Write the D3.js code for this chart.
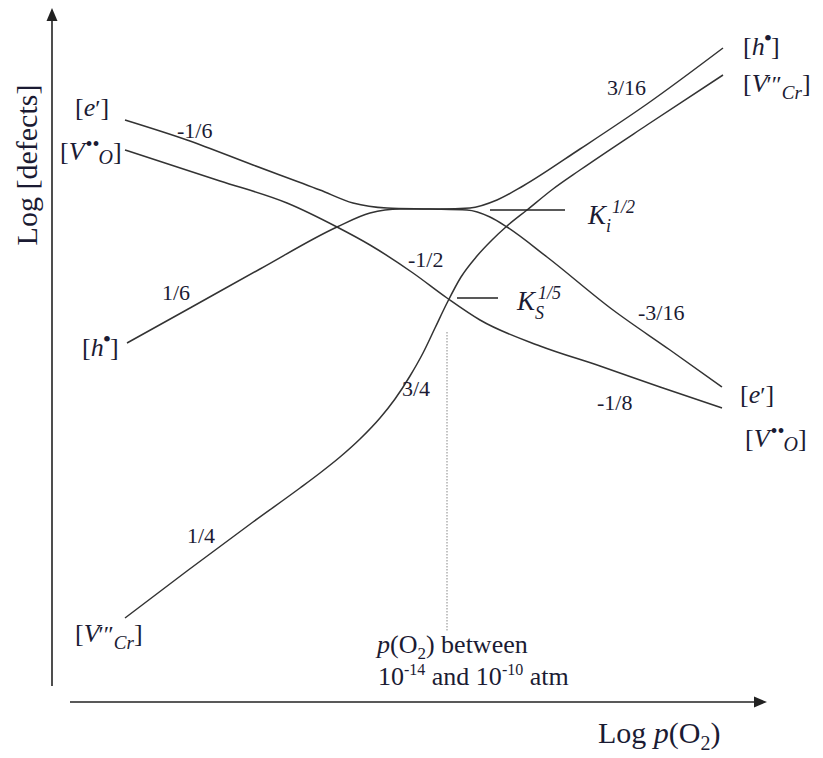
<!DOCTYPE html>
<html>
<head>
<meta charset="utf-8">
<script src="https://cdn.jsdelivr.net/npm/d3@7/dist/d3.min.js"></script>
<style>
	body { margin: 0; background: #fff; }
	svg, text { font-family: "Liberation Serif", "DejaVu Serif", serif; }
	text { fill: #1b1b33; }
</style>
</head>
<body>
<div id="chart"></div>
<script>
// Brouwer diagram, values in arbitrary log units [log p(O2), log conc]
var electrons = [[7.5,57.0],[13.7,55.0],[20.3,52.5],[27.0,50.0],[30.3,48.7],[33.7,48.2],[38.0,48.1],
	[41.7,48.0],[44.0,47.3],[45.7,46.3],[49.7,43.3],[56.3,38.0],[62.0,34.0],[67.2,30.3]];
var holes = [[7.7,34.7],[14.0,38.2],[21.0,42.1],[28.7,46.3],[32.0,47.7],[35.0,48.1],[39.0,48.1],
	[42.0,48.2],[44.7,49.0],[47.3,50.4],[53.0,54.1],[59.7,58.6],[67.3,64.2]];
var oxygenVac = [[7.5,54.0],[17.0,50.9],[23.7,48.7],[28.7,46.3],[32.0,44.5],[36.3,41.7],[39.7,39.2],
	[43.0,37.0],[49.0,34.4],[55.0,32.4],[61.0,30.3],[67.2,28.2]];
var chromiumVac = [[7.5,7.2],[13.7,11.9],[20.3,16.8],[25.0,20.2],[27.0,21.7],[29.0,23.3],[31.0,25.1],
	[33.0,27.2],[34.5,29.1],[36.0,31.4],[37.3,33.7],[38.5,36.2],[39.7,38.7],[41.1,41.3],[42.7,43.4],
	[44.2,45.0],[45.7,46.4],[47.7,48.0],[50.3,50.1],[53.0,52.0],[59.7,56.5],[67.3,61.5]];

var slopes = ["-1/6", "1/6", "-1/2", "3/16", "-3/16", "-1/8", "1/4", "3/4"];
var slopePos = [[12.7,55.2],[11.2,39.0],[35.8,42.3],[55.7,59.5],[58.8,37.0],[54.7,28.0],[13.7,14.7],[35.2,29.4]];

var species = ["e", "VO", "h", "VCr", "h", "VCr", "e", "VO"];
var speciesPos = [[2.5,57.4],[1.0,53.0],[3.2,33.4],[2.5,4.8],[69.3,63.5],[69.3,59.8],[69.0,28.7],[69.5,24.3]];

// equilibrium constants: level of Ki^1/2 and Ks^1/5, narrow pO2 window
var kiLevel = 48.0, ksLevel = 39.2, windowX = 39.7;

var width = 823, height = 758;

var x = d3.scaleLinear().domain([0, 72]).range([50, 770]);
var y = d3.scaleLinear().domain([0, 68]).range([690, 10]);

var svg = d3.select("#chart")
	.append("svg")
	.attr("width", width)
	.attr("height", height);

// axes with arrows
svg.append("line")
	.attr("x1", 52).attr("y1", 686).attr("x2", 52).attr("y2", 18)
	.attr("stroke", "#222").attr("stroke-width", 1.6);
svg.append("path")
	.attr("d", "M52,8L46.5,21L57.5,21Z")
	.attr("fill", "#222");
svg.append("line")
	.attr("x1", 70).attr("y1", 702).attr("x2", 757).attr("y2", 702)
	.attr("stroke", "#222").attr("stroke-width", 1.6);
svg.append("path")
	.attr("d", "M767,702L754,696.5L754,707.5Z")
	.attr("fill", "#222");

// pO2 window marker
svg.append("line")
	.attr("x1", x(windowX)).attr("x2", x(windowX))
	.attr("y1", 332).attr("y2", 632)
	.attr("stroke", "#aaa").attr("stroke-width", 1.4)
	.attr("stroke-dasharray", "1.5,1.5");

var line = d3.line()
	.x(function(d) { return x(d[0]); })
	.y(function(d) { return y(d[1]); })
	.curve(d3.curveMonotoneX);

svg.append("g")
	.selectAll("path")
	.data([electrons, holes, oxygenVac, chromiumVac])
	.enter().append("path")
	.attr("d", line)
	.attr("fill", "none")
	.attr("stroke", "#333")
	.attr("stroke-width", 1.5);

// K leader lines
svg.append("line")
	.attr("x1", x(44.0)).attr("x2", x(51.5))
	.attr("y1", y(kiLevel)).attr("y2", y(kiLevel))
	.attr("stroke", "#222").attr("stroke-width", 1.5);
svg.append("line")
	.attr("x1", x(40.7)).attr("x2", x(44.8))
	.attr("y1", y(ksLevel)).attr("y2", y(ksLevel))
	.attr("stroke", "#222").attr("stroke-width", 1.5);

// slope labels
svg.append("g")
	.selectAll("text")
	.data(slopes)
	.enter().append("text")
	.attr("x", function(d, i) { return x(slopePos[i][0]); })
	.attr("y", function(d, i) { return y(slopePos[i][1]); })
	.style("font-size", "22px")
	.text(function(d) { return d; });

// builds a label out of tspans
function addPart(t, txt, opt) {
	var s = t.append("tspan").text(txt);
	if (opt.size) s.style("font-size", opt.size + "px");
	if (opt.italic) s.style("font-style", "italic");
	if (opt.dy) s.attr("dy", opt.dy);
	if (opt.dx) s.attr("dx", opt.dx);
	return s;
}

function drawSpecies(t, kind) {
	t.style("font-size", "26px");
	addPart(t, "[", {});
	if (kind == "e") {
		addPart(t, "e", {italic: true});
		addPart(t, "\u2032", {size: 24});
		addPart(t, "]", {});
	} else if (kind == "h") {
		addPart(t, "h", {italic: true});
		addPart(t, "\u2022", {size: 24, dy: -9, dx: -1});
		addPart(t, "]", {dy: 9, dx: -1});
	} else if (kind == "VO") {
		addPart(t, "V", {italic: true});
		addPart(t, "\u2022\u2022", {size: 20, dy: -9, dx: 1});
		addPart(t, "O", {italic: true, size: 20, dy: 13, dx: -1});
		addPart(t, "]", {dy: -4});
	} else {
		addPart(t, "V", {italic: true});
		addPart(t, "\u2032\u2033", {size: 24, dx: -1});
		addPart(t, "Cr", {italic: true, size: 19, dy: 7});
		addPart(t, "]", {dy: -7});
	}
}

svg.append("g")
	.selectAll("text")
	.data(species)
	.enter().append("text")
	.attr("x", function(d, i) { return x(speciesPos[i][0]); })
	.attr("y", function(d, i) { return y(speciesPos[i][1]); })
	.each(function(d) { drawSpecies(d3.select(this), d); });

// equilibrium constant labels
var ki = svg.append("text")
	.attr("x", x(53.8)).attr("y", y(46.6))
	.style("font-size", "27px");
addPart(ki, "K", {italic: true});
addPart(ki, "i", {italic: true, size: 18, dy: 8});
addPart(ki, "1/2", {italic: true, size: 18, dy: -19, dx: 1});

var ks = svg.append("text")
	.attr("x", x(46.7)).attr("y", y(38.0))
	.style("font-size", "27px");
addPart(ks, "K", {italic: true});
addPart(ks, "S", {italic: true, size: 18, dy: 9});
addPart(ks, "1/5", {italic: true, size: 18, dy: -20, dx: -6});

// window caption
var cap1 = svg.append("text")
	.attr("x", 377).attr("y", 653)
	.style("font-size", "26px");
addPart(cap1, "p", {italic: true});
addPart(cap1, "(O", {});
addPart(cap1, "2", {size: 17, dy: 6});
addPart(cap1, ") between", {dy: -6});

var cap2 = svg.append("text")
	.attr("x", 378).attr("y", 685)
	.style("font-size", "26px");
addPart(cap2, "10", {});
addPart(cap2, "-14", {size: 16, dy: -10});
addPart(cap2, " and 10", {dy: 10});
addPart(cap2, "-10", {size: 16, dy: -10});
addPart(cap2, " atm", {dy: 10});

// axis titles
var xt = svg.append("text")
	.attr("x", 598).attr("y", 743)
	.style("font-size", "30px");
addPart(xt, "Log ", {});
addPart(xt, "p", {italic: true});
addPart(xt, "(O", {});
addPart(xt, "2", {size: 20, dy: 7});
addPart(xt, ")", {dy: -7});

svg.append("text")
	.attr("transform", "translate(37,165) rotate(-90)")
	.style("text-anchor", "middle")
	.style("font-size", "30px")
	.text("Log [defects]");
</script>
</body>
</html>
